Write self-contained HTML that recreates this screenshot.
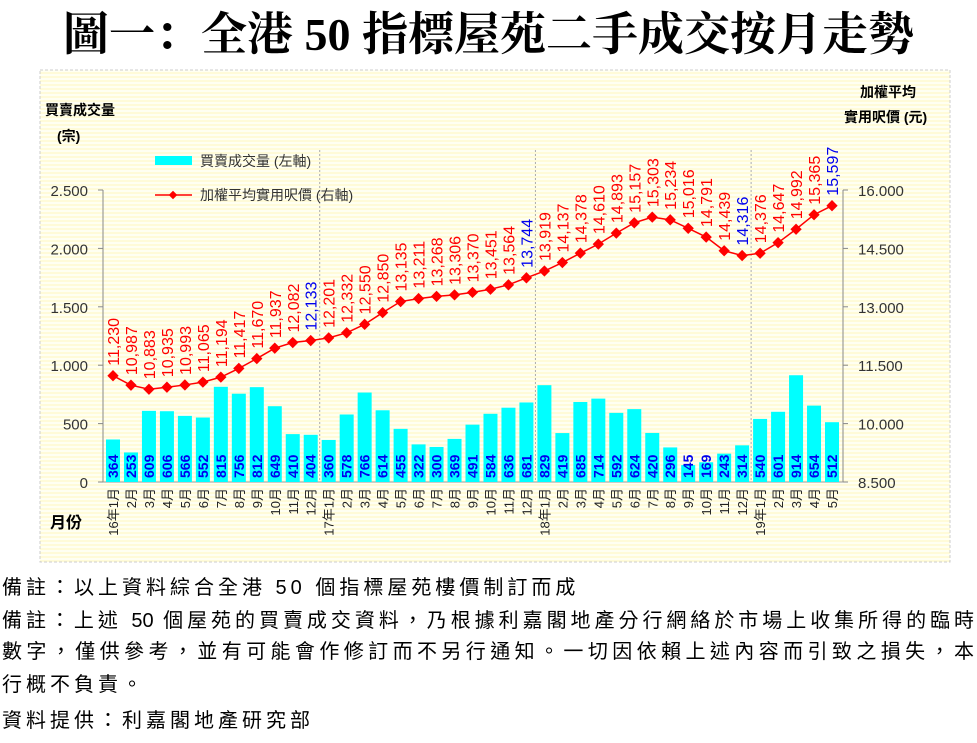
<!DOCTYPE html>
<html><head><meta charset="utf-8"><style>
body{margin:0;background:#fff;width:977px;height:743px;overflow:hidden;font-family:"Liberation Sans","Noto Sans CJK TC",sans-serif}
.note{position:absolute;left:2px;font-size:20px;color:#000;line-height:30px;letter-spacing:4px;white-space:nowrap}
.j{width:972px;text-align:justify;text-align-last:justify;letter-spacing:0}
</style></head><body>
<div style="position:absolute;left:0;top:-2px;width:977px;text-align:center;font-size:46px;font-weight:bold;font-family:'Liberation Serif','Noto Serif CJK SC',serif;white-space:nowrap">圖一：全港 50 指標屋苑二手成交按月走勢</div>
<svg style="position:absolute;left:0;top:0" width="977" height="743" id="s">
<defs><pattern id="st" width="4" height="4" patternUnits="userSpaceOnUse"><rect width="4" height="4" fill="#fffbd8"/><rect y="2" width="4" height="2" fill="#fffff2"/></pattern></defs>
<rect x="40" y="70" width="910" height="492" fill="url(#st)" stroke="#ccc" stroke-dasharray="3,2"/>
<g id="g" font-family="Liberation Sans,Noto Sans CJK TC,sans-serif"></g>
</svg>
<div class="note" style="top:573px">備註：以上資料綜合全港 50 個指標屋苑樓價制訂而成</div>
<div class="note j" style="top:606px">備註：上述 50 個屋苑的買賣成交資料，乃根據利嘉閣地產分行網絡於市場上收集所得的臨時</div>
<div class="note j" style="top:637px">數字，僅供參考，並有可能會作修訂而不另行通知。一切因依賴上述內容而引致之損失，本</div>
<div class="note" style="top:670px">行概不負責。</div>
<div class="note" style="top:706px">資料提供：利嘉閣地產研究部</div>
<script>
var v=[364,253,609,606,566,552,815,756,812,649,410,404,360,578,766,614,455,322,300,369,491,584,636,681,829,419,685,714,592,624,420,296,145,169,243,314,540,601,914,654,512];
var p=[11230,10987,10883,10935,10993,11065,11194,11417,11670,11937,12082,12133,12201,12332,12550,12850,13135,13211,13268,13306,13370,13451,13564,13744,13919,14137,14378,14610,14893,15157,15303,15234,15016,14791,14439,14316,14376,14647,14992,15365,15597];
var blue=[11,23,35,40];
var h='';
function X(i){return 113+i*17.975}
function YV(a){return 482-a/500*58.4}
function YP(a){return 482-(a-8500)/1500*58.4}
h+='<line x1="103" y1="190" x2="103" y2="482" stroke="#888"/><line x1="843" y1="190" x2="843" y2="482" stroke="#888"/><line x1="103" y1="482" x2="843" y2="482" stroke="#999"/>';
for(var k=0;k<=5;k++){var y=482-k*58.4;h+='<line x1="98" y1="'+y+'" x2="103" y2="'+y+'" stroke="#888"/><text x="88" y="'+(y+6)+'" font-size="15" text-anchor="end" fill="#333">'+(k==0?'0':(k*500).toLocaleString('en').replace(',','.'))+'</text>';}
for(var k=0;k<=5;k++){var y=482-k*58.4;h+='<line x1="843" y1="'+y+'" x2="848" y2="'+y+'" stroke="#888"/><text x="858" y="'+(y+6)+'" font-size="15" fill="#333">'+(8500+k*1500).toLocaleString('en').replace(',','.')+'</text>';}
[0,1,2].forEach(function(j){var x=X(11.5+12*j);h+='<line x1="'+x+'" y1="150" x2="'+x+'" y2="482" stroke="#aaa" stroke-dasharray="2,2"/>';});
var pts=[];
for(var i=0;i<41;i++){var x=X(i),y=YV(v[i]);h+='<rect x="'+(x-7)+'" y="'+y+'" width="14" height="'+(482-y)+'" fill="#00ffff"/>';
h+='<text transform="translate('+(x+5)+',478) rotate(-90)" font-size="14" font-weight="bold" fill="#0000ee">'+v[i]+'</text>';
var m=(i%12)+1,yr=16+Math.floor(i/12);var lab=(m==1?yr+'年':'')+m+'月';
h+='<text transform="translate('+(x+5)+',488) rotate(-90)" font-size="13" text-anchor="end" fill="#222">'+lab+'</text>';
pts.push(x+','+YP(p[i]));}
h+='<polyline points="'+pts.join(' ')+'" fill="none" stroke="#ff0000" stroke-width="1.5"/>';
for(var i=0;i<41;i++){var x=X(i),y=YP(p[i]);h+='<rect x="'+(x-4)+'" y="'+(y-4)+'" width="8" height="8" fill="#f00" transform="rotate(45 '+x+' '+y+')"/>';
var c=blue.indexOf(i)>=0?'#0000ee':'#ff0000';
h+='<text transform="translate('+(x+6)+','+(y-10)+') rotate(-90)" font-size="16" fill="'+c+'">'+p[i].toLocaleString('en')+'</text>';}
h+='<text x="45" y="115" font-size="14" font-weight="bold">買賣成交量</text><text x="57" y="141" font-size="14" font-weight="bold">(宗)</text>';
h+='<text x="860" y="97" font-size="14" font-weight="bold">加權平均</text><text x="844" y="122" font-size="14" font-weight="bold">實用呎價 (元)</text>';
h+='<text x="50" y="528" font-size="16" font-weight="bold">月份</text>';
h+='<rect x="155" y="156" width="37" height="9" fill="#00ffff"/><text x="200" y="166" font-size="14" fill="#333">買賣成交量 (左軸)</text>';
h+='<line x1="155" y1="195" x2="192" y2="195" stroke="#f00" stroke-width="1.5"/><rect x="170" y="192" width="6" height="6" fill="#f00" transform="rotate(45 173 195)"/><text x="200" y="200" font-size="14" fill="#333">加權平均實用呎價 (右軸)</text>';
document.getElementById('g').innerHTML=h;
</script>
</body></html>
